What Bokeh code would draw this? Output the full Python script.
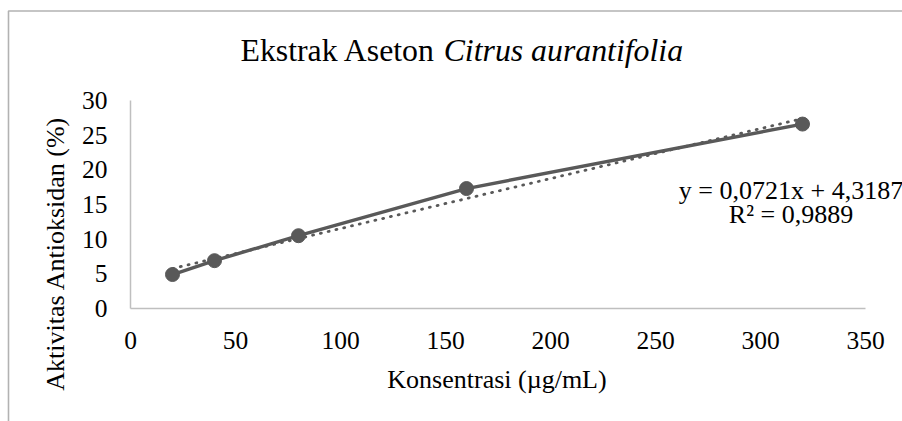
from bokeh.plotting import figure
from bokeh.models import Range1d, Label, FixedTicker, LinearAxis, BoxAnnotation
from bokeh.embed import file_html
from bokeh.resources import INLINE

# ---- data ----
konsentrasi = [20, 40, 80, 160, 320]
aktivitas = [4.9, 6.9, 10.5, 17.3, 26.6]
x_ticks = [0, 50, 100, 150, 200, 250, 300, 350]
y_ticks = [0, 5, 10, 15, 20, 25, 30]
slope = 0.0721
intercept = 4.3187
r_squared = 0.9889
title_regular = "Ekstrak Aseton"
title_italic = "Citrus aurantifolia"
x_title = "Konsentrasi (µg/mL)"
y_title = "Aktivitas Antioksidan (%)"
eq_text = "y = 0,0721x + 4,3187"
r2_text = "R² = 0,9889"

# ---- layout constants (pixels on the page) ----
W, H = 902, 421
X0, X1 = 0, 350
Y0, Y1 = 0, 30
PX_X0, PX_X1 = 130, 865      # where x=0 and x=350 sit
PX_Y0, PX_Y1 = 308, 100      # where y=0 and y=30 sit
FONT = "Liberation Serif"
GRAY = "#595959"
LBL_FS = 26.0
BASE_SHIFT = 0.36            # label baseline correction (in em)

sx = (PX_X1 - PX_X0) / (X1 - X0)
sy = (PX_Y0 - PX_Y1) / (Y1 - Y0)


def dx(px):
    return X0 + (px - PX_X0) / sx


def dy(py):
    return Y0 + (PX_Y0 - py) / sy


p = figure(width=W, height=H, output_backend="svg", toolbar_location=None,
           x_range=Range1d(dx(0), dx(W)), y_range=Range1d(dy(H), dy(0)),
           x_axis_location=None, y_axis_location=None,
           min_border=0, min_border_left=0, min_border_right=0,
           min_border_top=0, min_border_bottom=0)
p.outline_line_color = None
p.xgrid.visible = False
p.ygrid.visible = False
p.background_fill_color = "white"
p.border_fill_color = "white"

xaxis = LinearAxis(fixed_location=Y0, bounds=(X0, X1), ticker=FixedTicker(ticks=x_ticks))
yaxis = LinearAxis(fixed_location=X0, bounds=(Y0, Y1), ticker=FixedTicker(ticks=y_ticks))
for ax in (xaxis, yaxis):
    ax.axis_line_color = "#BFBFBF"
    ax.axis_line_width = 1.5
    ax.major_tick_line_color = None
    ax.minor_tick_line_color = None
    ax.major_tick_out = 0
    ax.major_tick_in = 0
    ax.minor_tick_out = 0
    ax.minor_tick_in = 0
    ax.major_label_text_font = FONT
    ax.major_label_text_font_size = "25.5px"
    ax.major_label_text_color = "black"
    ax.major_label_standoff = 23
p.add_layout(xaxis, "below")
p.add_layout(yaxis, "left")

# chart-area border (left and top edges visible in the window)
p.add_layout(BoxAnnotation(left=dx(8), top=dy(10.5), right=dx(W + 50), bottom=dy(H + 50),
                           fill_color=None, line_color="black", line_width=1.6))

# trendline (from the displayed regression coefficients)
tx = [konsentrasi[0], konsentrasi[-1]]
ty = [slope * v + intercept for v in tx]
p.line(tx, ty, line_color=GRAY, line_width=2.8, line_dash="1 7", line_cap="round")

# series
p.line(konsentrasi, aktivitas, line_color=GRAY, line_width=3.4)
p.scatter(konsentrasi, aktivitas, size=14, fill_color=GRAY, line_color=GRAY)


def text_label(px, py, txt, fs, align="center", style="normal"):
    return Label(x=dx(px), y=dy(py - BASE_SHIFT * fs), text=txt, text_font=FONT,
                 text_font_style=style, text_font_size=f"{fs}px", text_color="black",
                 text_align=align, text_baseline="alphabetic")


# title (mixed regular + italic)
TFS = 31.8
t_left = 240
t_base = 61
p.add_layout(text_label(t_left, t_base, title_regular, TFS, align="left"))
p.add_layout(text_label(t_left + 6.388 * TFS, t_base, title_italic, TFS, align="left",
                        style="italic"))

# axis titles
p.add_layout(text_label(496.5, 388, x_title, LBL_FS))
p.add_layout(Label(x=dx(55), y=dy(253), text=y_title, text_font=FONT,
                   text_font_size=f"{LBL_FS}px", text_color="black", angle=1.5707963,
                   text_align="center", text_baseline="middle"))

# trendline equation
p.add_layout(text_label(790.5, 199, eq_text, LBL_FS))
p.add_layout(text_label(790.5, 223, r2_text, LBL_FS))

open("out.html", "w").write(file_html(p, INLINE))
